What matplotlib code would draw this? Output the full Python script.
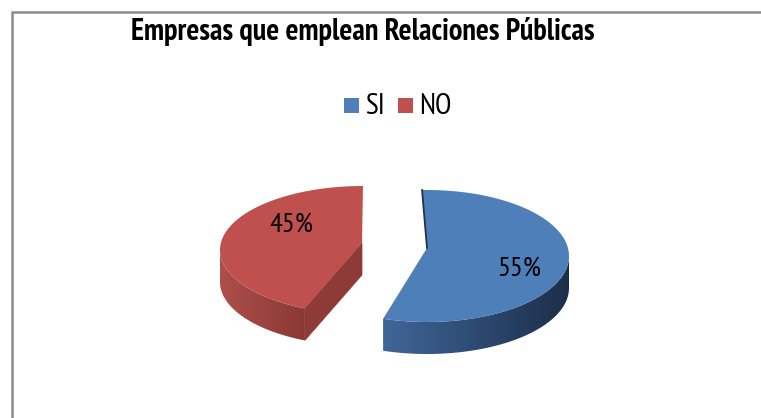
import numpy as np
import matplotlib
matplotlib.use('Agg')
import matplotlib.pyplot as plt
from matplotlib.patches import Polygon, Rectangle

title = 'Empresas que emplean Relaciones Públicas'
labels = ['SI', 'NO']
shares = [55, 45]
top_colors = ['#4f7fb9', '#bf504d']
narrow = ['PT Sans Narrow', 'Roboto Condensed', 'Liberation Sans', 'DejaVu Sans']

# slice geometry in pixels: ellipse centre, tip of the wedge, label position
centers = [(427, 256), (363, 250)]
tips = [(427, 248), (362, 243)]
radii = [(142, 66), (143, 64)]
# the tilted view pulls the start of each rim round a little
rim_shift = [-2, 6]
depth = 32
text_pos = [(519, 269), (291, 225)]
# wall colours from left to right
wall_left = [(0.25, 0.40, 0.60), (0.68, 0.31, 0.29)]
wall_right = [(0.11, 0.18, 0.29), (0.54, 0.22, 0.21)]


def rim(center, radius, a0, a1, n=120):
    # angles are clockwise from 12 o'clock, screen y goes down
    a = np.radians(np.linspace(a0, a1, n))
    return center[0] + radius[0] * np.sin(a), center[1] - radius[1] * np.cos(a)


fig = plt.figure(figsize=(7.61, 4.18), dpi=100)
ax = fig.add_axes([0, 0, 1, 1])
ax.axis('off')

# outer frame, open on the right and at the bottom
ax.plot([12, 12, 761], [418, 12, 12], color='#8c8c8c', lw=1.8, solid_joinstyle='miter')

angles = np.cumsum([0] + [s * 3.6 for s in shares])

for i in range(len(shares)):
    a0, a1 = angles[i] + rim_shift[i], angles[i + 1]
    xs, ys = rim(centers[i], radii[i], a0, a1)
    tip = tips[i]

    # cut face, only the one turned towards the viewer
    if i == 1:
        ax.add_patch(Polygon([tip, (xs[0], ys[0]), (xs[0], ys[0] + depth), (tip[0], tip[1] + depth)],
                             closed=True, fc='#8e3a37', ec='#8e3a37', lw=0.5, zorder=2))
    else:
        ax.plot([xs[0], tip[0]], [ys[0], tip[1]], color='#1f3350', lw=1.3, zorder=4)

    # outer wall: lower half of the rim only, horizontal gradient clipped to its outline
    w0, w1 = max(a0, 90), min(a1, 270)
    wx, wy = rim(centers[i], radii[i], w0, w1, n=90)
    outline = Polygon(list(zip(wx, wy)) + list(zip(wx[::-1], wy[::-1] + depth)), closed=True,
                      fc='none', ec='none', transform=ax.transData)
    ax.add_patch(outline)
    t = np.linspace(0, 1, 256)[None, :, None]
    grad = np.array(wall_left[i])[None, None, :] * (1 - t) + np.array(wall_right[i])[None, None, :] * t
    im = ax.imshow(grad, extent=(wx.min(), wx.max(), wy.max() + depth, wy.min()), aspect='auto', zorder=2)
    im.set_clip_path(outline)

    # top face
    ax.add_patch(Polygon(list(zip(xs, ys)) + [tip], closed=True, fc=top_colors[i], ec='none', zorder=3))
    ax.text(text_pos[i][0], text_pos[i][1], '%d%%' % shares[i], family=narrow, fontsize=20.5,
            ha='center', va='center', color='black', zorder=5)

ax.text(363, 32, title, family=narrow, fontsize=21.8, fontweight='bold', ha='center', va='center', color='black')

# legend row
swatch_x = [344, 398]
for i in range(len(labels)):
    ax.add_patch(Rectangle((swatch_x[i], 98), 15, 15, fc=top_colors[i], ec='none'))
    ax.text(swatch_x[i] + 21, 107, labels[i], family=narrow, fontsize=21.5, ha='left', va='center', color='black')

ax.set_xlim(0, 761)
ax.set_ylim(418, 0)
fig.savefig('out.png', dpi=100, facecolor='white')
